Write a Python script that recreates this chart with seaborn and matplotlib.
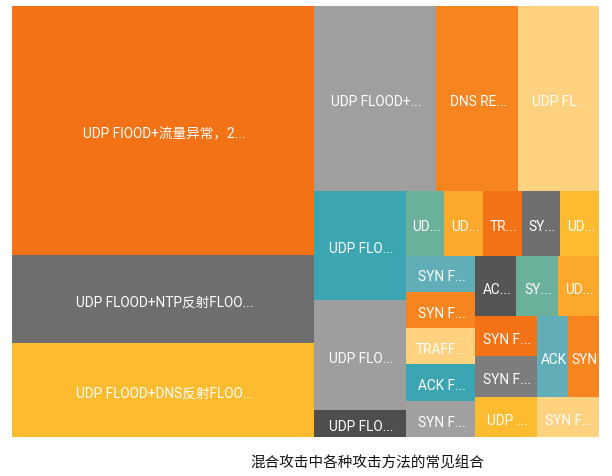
import matplotlib
matplotlib.use("Agg")
import matplotlib.pyplot as plt
import seaborn as sns

# attack-combination counts, in drawing order (largest first)
labels = [
    "UDP FIOOD+流量异常，2...", "UDP FLOOD+NTP反射FLOO...", "UDP FLOOD+DNS反射FLOO...",
    "UDP FLOOD+...", "DNS RE...", "UDP FL...",
    "UDP FLO...", "UDP FLO...", "UDP FLO...",
    "UD...", "UD...", "TR...", "SY...", "UD...",
    "SYN F...", "SYN F...", "TRAFF...", "ACK F...", "SYN F...",
    "AC...", "SY...", "UD...",
    "SYN F...", "SYN F...", "UDP ...", "ACK", "SYN", "SYN F...",
]
values = [
    30, 10.7, 11.3,
    9, 6, 6,
    4, 4, 1,
    1, 1, 1, 1, 1,
    1, 1, 1, 1, 1,
    1, 1, 1,
    1, 1, 1, 1, 1, 1,
]
colors = [
    "#F47216", "#6E6E6E", "#FDBB30",
    "#9E9F9E", "#F7851F", "#FED27F",
    "#3CA5B2", "#9E9E9E", "#4E4E4E",
    "#6BB09A", "#FBA82B", "#F47216", "#6E6E6E", "#FDBB30",
    "#62AEB8", "#F7851F", "#FED27F", "#3CA5B2", "#A0A0A0",
    "#555555", "#6BB09A", "#FBA82B",
    "#F47216", "#7D7D7D", "#FDBB30", "#62AEB8", "#F7851F", "#FED27F",
]
title = "混合攻击中各种攻击方法的常见组合"

GOLDEN = (1 + 5 ** 0.5) / 2


def worst(row, fixed, ratio):
    s = sum(row)
    sq = s * s
    f = fixed * fixed * ratio
    return max(f * max(row) / sq, sq / (f * min(row)))


def place(row, fixed, rect, flush):
    x, y, w, h = rect
    horizontal = fixed == w
    other = sum(row) / fixed if fixed else 0
    limit = h if horizontal else w
    if flush or other > limit:
        other = limit
    last = x if horizontal else y
    end = (x + w) if horizontal else (y + h)
    out = []
    for k, a in enumerate(row):
        step = a / other if other else 0
        remain = end - last
        size = remain if (k == len(row) - 1 or remain < step) else step
        if horizontal:
            out.append((last, y, size, other))
        else:
            out.append((x, last, other, size))
        last += size
    if horizontal:
        rect[1] += other
        rect[3] -= other
    else:
        rect[0] += other
        rect[2] -= other
    return out


def squarify(vals, width, height, ratio=GOLDEN):
    """Squarified treemap layout (golden-ratio target, like echarts)."""
    total = sum(vals)
    areas = [v / total * width * height for v in vals]
    rect = [0.0, 0.0, width, height]
    fixed = min(width, height)
    rects, row, best = [], [], float("inf")
    i = 0
    while i < len(areas):
        row.append(areas[i])
        score = worst(row, fixed, ratio)
        if score <= best:
            i += 1
            best = score
        else:
            row.pop()
            rects += place(row, fixed, rect, False)
            fixed = min(rect[2], rect[3])
            row, best = [], float("inf")
    if row:
        rects += place(row, fixed, rect, True)
    return rects


sns.set_style("white")
plt.rcParams["font.family"] = ["Roboto", "Noto Sans CJK SC", "DejaVu Sans"]

fig = plt.figure(figsize=(6.12, 4.77), dpi=100)
left, right, top, bottom = 12 / 612, 599 / 612, 1 - 7 / 477, 1 - 438 / 477
ax = fig.add_axes([left, bottom, right - left, top - bottom])

W, H = 587.0, 431.0
boxes = squarify(values, W, H)
palette = sns.color_palette(colors)

for (x, y, w, h), lab, col in zip(boxes, labels, palette):
    ax.bar(x, h, width=w, bottom=y, align="edge", color=col, linewidth=0)
    ax.annotate(lab, (x + w / 2, y + h / 2), xytext=(1, -2),
                textcoords="offset points", ha="center", va="center",
                color="white", fontsize=9.8)

ax.set_xlim(0, W)
ax.set_ylim(H, 0)
ax.axis("off")

fig.text(367.5 / 612, 1 - 464 / 477, title, ha="center", va="center",
         fontsize=10.5, color="#111111",
         family=["Noto Sans CJK SC", "DejaVu Sans"])

fig.savefig("out.png", dpi=100)
